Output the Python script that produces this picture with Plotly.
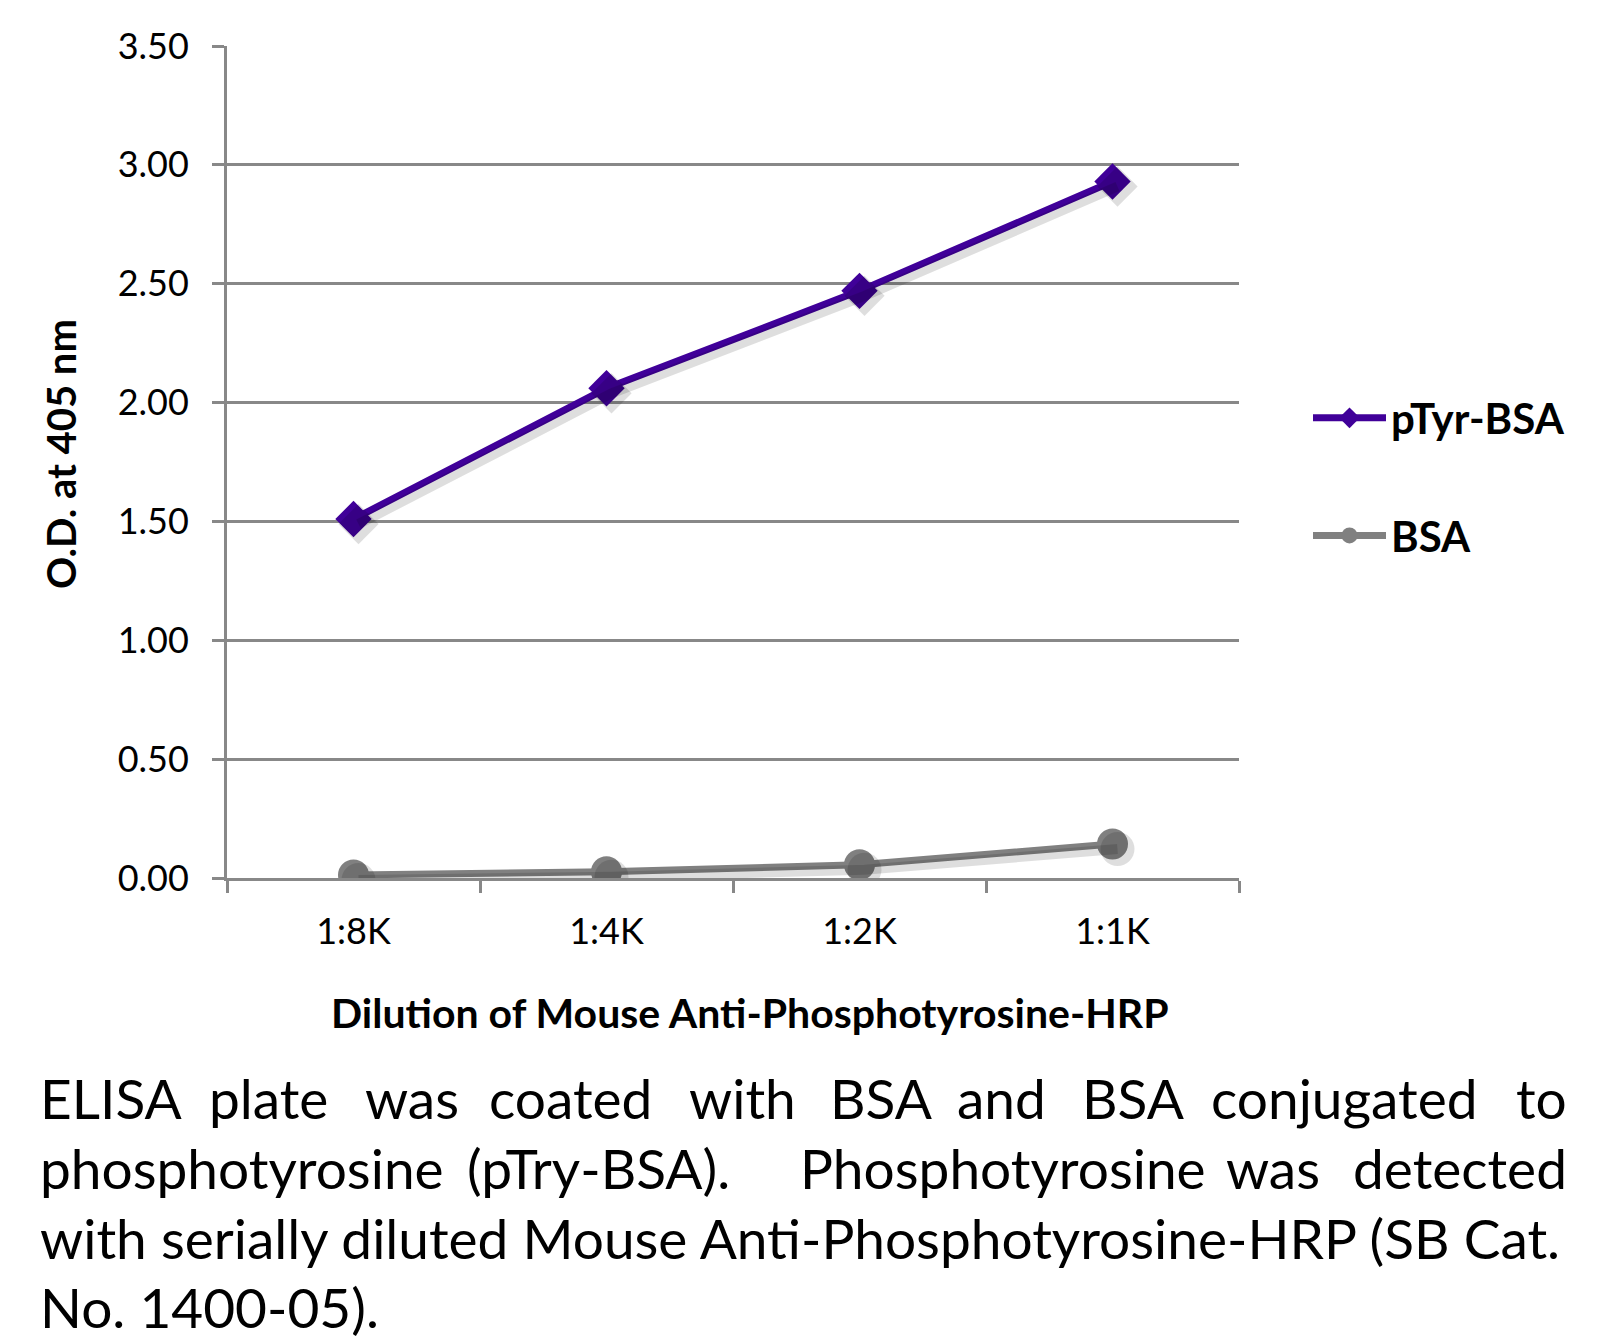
import plotly.graph_objects as go

categories = ["1:8K", "1:4K", "1:2K", "1:1K"]
ptyr_bsa = [1.51, 2.06, 2.47, 2.93]
bsa = [0.013, 0.026, 0.056, 0.143]

y_title = "O.D. at 405 nm"
x_title = "Dilution of Mouse Anti-Phosphotyrosine-HRP"

# justified caption lines (word by word)
caption_just_words = [
    ["ELISA", "plate", "was", "coated", "with", "BSA", "and", "BSA", "conjugated", "to"],
    ["phosphotyrosine", "(pTry-BSA).", "Phosphotyrosine", "was", "detected"],
]
caption_just_x = [
    [38, 207, 363, 487, 687, 828, 955, 1080, 1209, 1569],
    [38, 465, 798, 1224, 1569],
]
# plain caption lines
caption_plain = [
    "with serially diluted Mouse Anti-Phosphotyrosine-HRP (SB Cat.",
    "No. 1400-05).",
]
caption_y = [1098, 1168, 1238, 1307]

W, H = 1610, 1344
L, R, T, B = 227, 1239, 46, 878

PURPLE = "#400099"
GRAY = "#808080"
GRID = "#888888"
FONT = "Lato, 'Open Sans', sans-serif"
CAP_SIZE = 55


def px_x(px):
    return (px - L) / (R - L)


def px_y(py):
    return (B - py) / (B - T)


fig = go.Figure()

# soft shadows (same data drawn on slightly offset overlay axes)
dx = 5 / ((R - L) / 4)
dy = 5 / ((B - T) / 3.5)
for data, sym, size in [(ptyr_bsa, "diamond", 28), (bsa, "circle", 31)]:
    fig.add_trace(go.Scatter(
        x=categories, y=data, xaxis="x2", yaxis="y2", mode="lines+markers",
        line=dict(color="rgba(0,0,0,0.13)", width=10),
        marker=dict(symbol=sym, size=size + 3, color="rgba(0,0,0,0.13)"),
        showlegend=False, hoverinfo="skip",
    ))

fig.add_trace(go.Scatter(
    x=categories, y=ptyr_bsa, name="pTyr-BSA", mode="lines+markers",
    line=dict(color=PURPLE, width=7),
    marker=dict(symbol="diamond", size=28, color=PURPLE),
    legendgroup="a",
))
fig.add_trace(go.Scatter(
    x=categories, y=bsa, name="BSA", mode="lines+markers",
    line=dict(color=GRAY, width=7),
    marker=dict(symbol="circle", size=31, color=GRAY),
    legendgroup="b",
))

annotations = []
annotations.append(dict(
    text=x_title, xref="paper", yref="paper", x=px_x(750), y=px_y(1012),
    xanchor="center", yanchor="middle", showarrow=False,
    font=dict(family=FONT, size=41, color="black", weight="bold"),
))
annotations.append(dict(
    text=y_title, xref="paper", yref="paper", x=px_x(61), y=px_y(454),
    xanchor="center", yanchor="middle", showarrow=False, textangle=-90,
    font=dict(family=FONT, size=40, color="black", weight="bold"),
))
for words, xs, yy in zip(caption_just_words, caption_just_x, caption_y[:2]):
    for i, (w, x) in enumerate(zip(words, xs)):
        last = i == len(words) - 1
        annotations.append(dict(
            text=w, xref="paper", yref="paper", x=px_x(x), y=px_y(yy),
            xanchor="right" if last else "left", yanchor="middle", showarrow=False,
            font=dict(family=FONT, size=CAP_SIZE, color="black"),
        ))
for line, yy in zip(caption_plain, caption_y[2:]):
    annotations.append(dict(
        text=line, xref="paper", yref="paper", x=px_x(38), y=px_y(yy),
        xanchor="left", yanchor="middle", showarrow=False,
        font=dict(family=FONT, size=CAP_SIZE, color="black"),
    ))

fig.update_layout(
    width=W, height=H,
    margin=dict(l=L, r=W - R, t=T, b=H - B),
    paper_bgcolor="white", plot_bgcolor="white",
    font=dict(family=FONT, color="black"),
    showlegend=True,
    legend=dict(
        x=px_x(1308), y=px_y(384), xanchor="left", yanchor="top",
        font=dict(family=FONT, size=42, color="black", weight="bold"),
        tracegroupgap=60, itemwidth=73, bgcolor="rgba(0,0,0,0)",
    ),
    xaxis=dict(
        type="category", range=[-0.5, 3.5], showgrid=False,
        showline=True, linecolor=GRID, linewidth=2.5,
        ticks="outside", tickson="boundaries", ticklen=12, tickcolor=GRID, tickwidth=2.5,
        tickfont=dict(family=FONT, size=36, color="black"), ticklabelstandoff=20,
        zeroline=False,
    ),
    yaxis=dict(
        range=[0, 3.5], dtick=0.5, tickformat=".2f",
        showgrid=True, gridcolor=GRID, gridwidth=2.5,
        showline=True, linecolor=GRID, linewidth=3,
        ticks="outside", ticklen=12, tickcolor=GRID, tickwidth=2.5,
        tickfont=dict(family=FONT, size=36, color="black"), ticklabelstandoff=16,
        zeroline=False,
    ),
    xaxis2=dict(type="category", range=[-0.5 - dx, 3.5 - dx], overlaying="x", visible=False),
    yaxis2=dict(range=[0 + dy, 3.5 + dy], overlaying="y", visible=False),
    annotations=annotations,
)

fig.write_html(
    "out.html",
    config={"displayModeBar": False},
    post_script="document.body.style.margin='0px';",
)
